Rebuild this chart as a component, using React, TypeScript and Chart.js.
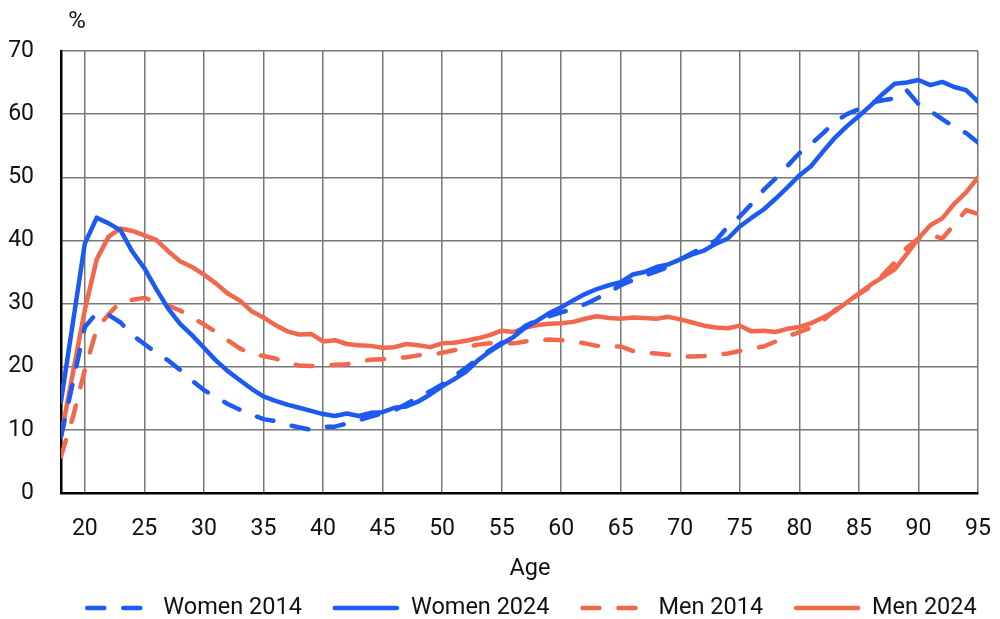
import React, { useEffect, useRef } from "react";
import { Chart, registerables } from "chart.js";

Chart.register(...registerables);

const ages = [
  18, 19, 20, 21, 22, 23, 24, 25, 26, 27, 28, 29, 30, 31, 32, 33, 34, 35, 36, 37,
  38, 39, 40, 41, 42, 43, 44, 45, 46, 47, 48, 49, 50, 51, 52, 53, 54, 55, 56, 57,
  58, 59, 60, 61, 62, 63, 64, 65, 66, 67, 68, 69, 70, 71, 72, 73, 74, 75, 76, 77,
  78, 79, 80, 81, 82, 83, 84, 85, 86, 87, 88, 89, 90, 91, 92, 93, 94, 95,
];

const women2014 = [
  8.9, 17.5, 26.3, 28.5, 28.2, 27.0, 25.0, 23.6, 22.2, 21.0, 19.5, 17.8, 16.3, 15.2, 14.1, 13.2, 12.4, 11.7, 11.4, 10.8,
  10.4, 10.0, 10.5, 10.5, 11.0, 11.5, 12.1, 12.6, 13.1, 14.1, 15.2, 16.1, 17.2, 18.5, 19.8, 21.3, 22.6, 23.8, 25.0, 26.5,
  27.4, 28.0, 28.6, 29.2, 29.9, 30.8, 31.8, 32.9, 33.7, 34.4, 35.1, 35.8, 37.0, 38.0, 39.0, 40.0, 42.2, 43.8, 45.8, 48.0,
  49.8, 51.8, 53.8, 55.3, 57.0, 58.8, 60.0, 60.8, 61.8, 62.2, 62.5, 63.8, 61.6, 60.5, 59.2, 58.0, 57.0, 55.5,
];

const women2024 = [
  14.5, 27.0, 39.5, 43.6, 42.7, 41.6, 38.2, 35.6, 32.3, 29.2, 26.8, 25.0, 23.0, 21.0, 19.3, 17.9, 16.5, 15.3, 14.6, 14.0,
  13.5, 13.0, 12.5, 12.2, 12.6, 12.2, 12.7, 12.8, 13.5, 13.7, 14.5, 15.6, 16.9, 18.0, 19.2, 21.0, 22.4, 23.6, 24.7, 26.2,
  27.3, 28.5, 29.4, 30.5, 31.5, 32.3, 32.9, 33.4, 34.6, 35.0, 35.8, 36.2, 37.0, 37.8, 38.4, 39.5, 40.3, 42.2, 43.6, 44.9,
  46.6, 48.4, 50.3, 51.8, 54.1, 56.3, 58.1, 59.7, 61.4, 63.2, 64.8, 65.0, 65.4, 64.6, 65.1, 64.3, 63.8, 62.0,
];

const men2014 = [
  5.8, 12.0, 19.5, 26.0, 28.3, 30.3, 30.6, 30.9, 30.2, 29.7, 28.9, 27.8, 26.7, 25.5, 24.2, 22.9, 22.0, 21.7, 21.3, 20.6,
  20.2, 20.1, 20.2, 20.3, 20.4, 20.8, 21.1, 21.2, 21.3, 21.5, 21.8, 21.9, 22.2, 22.6, 23.1, 23.5, 23.7, 23.7, 23.7, 24.0,
  24.2, 24.3, 24.2, 24.0, 23.7, 23.3, 23.2, 23.2, 22.5, 22.2, 22.1, 21.9, 21.6, 21.6, 21.7, 21.9, 22.1, 22.5, 22.9, 23.2,
  24.0, 24.8, 25.5, 26.2, 27.3, 29.0, 30.3, 31.5, 32.7, 34.5, 36.5, 38.8, 40.3, 40.9, 40.3, 42.5, 44.8, 44.2,
];

const men2024 = [
  9.0, 19.0, 29.0, 37.0, 40.6, 41.9, 41.5, 40.8, 40.1, 38.3, 36.7, 35.8, 34.6, 33.2, 31.6, 30.5, 28.8, 27.8, 26.6, 25.6,
  25.1, 25.2, 24.0, 24.2, 23.6, 23.4, 23.3, 23.0, 23.1, 23.6, 23.4, 23.1, 23.7, 23.8, 24.1, 24.5, 25.0, 25.7, 25.5, 26.2,
  26.6, 26.8, 26.9, 27.1, 27.6, 28.0, 27.7, 27.6, 27.8, 27.7, 27.6, 27.9, 27.5, 27.0, 26.5, 26.2, 26.1, 26.5, 25.6, 25.7,
  25.5, 26.0, 26.3, 26.9, 27.8, 28.8, 30.2, 31.6, 33.0, 34.2, 35.4, 37.8, 40.3, 42.4, 43.5, 45.8, 47.6, 50.0,
];

const xTickValues = [20, 25, 30, 35, 40, 45, 50, 55, 60, 65, 70, 75, 80, 85, 90, 95];
const seriesNames = ["Women 2014", "Women 2024", "Men 2014", "Men 2024"];

const BLUE = "#1c5af0";
const ORANGE = "#f2684c";
const FONT = "Roboto";
const DASH = [17, 19];

const toPoints = (vals: number[]) => ages.map((a, i) => ({ x: a, y: vals[i] }));

const textPlugin = {
  id: "texts",
  afterDraw(chart: any) {
    const ctx = chart.ctx;
    ctx.save();
    ctx.fillStyle = "#111";
    ctx.textBaseline = "middle";
    ctx.textAlign = "center";
    ctx.font = `24px ${FONT}`;
    ctx.fillText("%", 77, 22);
    ctx.font = `23.5px ${FONT}`;
    ctx.fillText("Age", 530, 569);

    // legend
    const lineLen = 66;
    const gapLT = 12;
    const gapItems = 31;
    ctx.font = `23.5px ${FONT}`;
    const widths = seriesNames.map((n) => ctx.measureText(n).width);
    const total = widths.reduce((s, w) => s + w + lineLen + gapLT, 0) + gapItems * (seriesNames.length - 1);
    let x = 531 - total / 2;
    const y = 608;
    chart.data.datasets.forEach((ds: any, i: number) => {
      ctx.beginPath();
      ctx.strokeStyle = ds.borderColor;
      ctx.lineWidth = 4.5;
      ctx.lineCap = "round";
      ctx.setLineDash(ds.borderDash || []);
      ctx.moveTo(x + 2, y);
      ctx.lineTo(x + lineLen - 2, y);
      ctx.stroke();
      ctx.setLineDash([]);
      ctx.fillStyle = "#111";
      ctx.textAlign = "left";
      ctx.fillText(ds.label, x + lineLen + gapLT, y);
      x += lineLen + gapLT + widths[i] + gapItems;
    });
    ctx.restore();
  },
};

export default function App() {
  const ref = useRef<HTMLCanvasElement>(null);
  useEffect(() => {
    if (!ref.current) return;
    const mk = (label: string, vals: number[], color: string, dashed: boolean) => ({
      label,
      data: toPoints(vals),
      borderColor: color,
      backgroundColor: color,
      borderWidth: 4.5,
      borderDash: dashed ? DASH : [],
      borderCapStyle: "round",
      borderJoinStyle: "round",
      pointRadius: 0,
      tension: 0,
      fill: false,
    });
    const chart = new Chart(ref.current, {
      type: "line",
      data: {
        datasets: [
          mk(seriesNames[0], women2014, BLUE, true),
          mk(seriesNames[1], women2024, BLUE, false),
          mk(seriesNames[2], men2014, ORANGE, true),
          mk(seriesNames[3], men2024, ORANGE, false),
        ] as any,
      },
      options: {
        animation: false,
        responsive: false,
        layout: { padding: { top: 51, right: 22, left: 0, bottom: 0 } },
        plugins: { legend: { display: false }, tooltip: { enabled: false } },
        scales: {
          x: {
            type: "linear",
            min: 18,
            max: 95,
            afterBuildTicks: (scale: any) => {
              scale.ticks = xTickValues.map((v) => ({ value: v }));
            },
            afterFit: (scale: any) => {
              scale.height = 126;
              scale.paddingRight = 0;
              scale.paddingLeft = 0;
            },
            ticks: {
              font: { family: FONT, size: 23 },
              color: "#111",
              padding: 22,
              maxRotation: 0,
              autoSkip: false,
            },
            grid: { color: "#777", lineWidth: 1.5, drawTicks: false },
            border: { display: true, color: "#000", width: 2.5 },
          },
          y: {
            min: 0,
            max: 70,
            afterFit: (scale: any) => {
              scale.width = 61;
              scale.paddingTop = 0;
              scale.paddingBottom = 0;
            },
            ticks: {
              stepSize: 10,
              font: { family: FONT, size: 23 },
              color: "#111",
              padding: 27,
            },
            grid: { color: "#777", lineWidth: 1.5, drawTicks: false },
            border: { display: true, color: "#000", width: 2.5 },
          },
        },
      },
      plugins: [textPlugin],
    });
    return () => chart.destroy();
  }, []);
  return (
    <div style={{ position: "fixed", left: 0, top: 0, width: 1000, height: 619, background: "#fff" }}>
      <canvas ref={ref} width={1000} height={619} />
    </div>
  );
}
